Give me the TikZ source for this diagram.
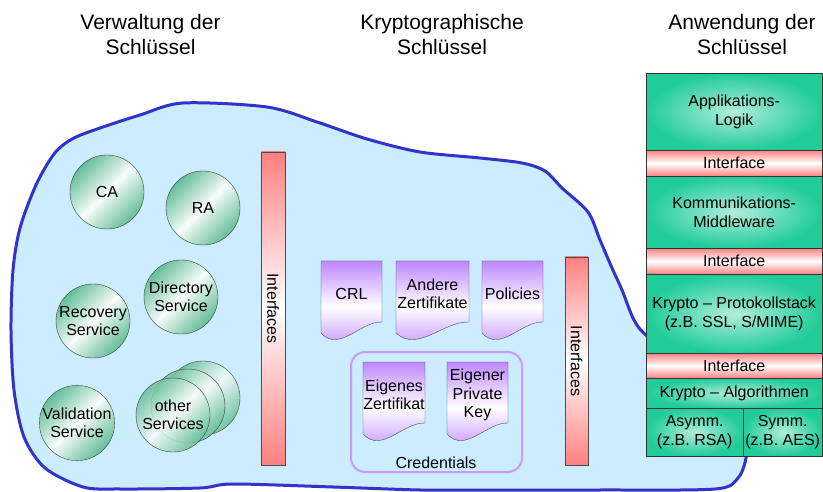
\documentclass[tikz,border=0pt]{standalone}
\usepackage{fontspec}
\setmainfont{Liberation Sans}
\usetikzlibrary{positioning}

\definecolor{blobfill}{RGB}{204,236,255}
\definecolor{blobline}{RGB}{51,51,204}
\definecolor{circgreen}{RGB}{100,190,152}
\definecolor{stackgreen}{RGB}{32,204,153}
\definecolor{ifred}{RGB}{255,128,128}
\definecolor{docpurple}{RGB}{190,135,255}
\definecolor{credline}{RGB}{204,153,255}

\newcommand{\titlefont}{\fontsize{21}{25}\selectfont}
\newcommand{\txtfont}{\fontsize{16}{18.5}\selectfont}

% document symbol: name, x, y (top left), width, text
\newcommand{\keydoc}[5]{%
	\begin{scope}[shift={(#2,#3)}]
		\draw[docshape] (0,0) -- (#4,0) -- (#4,61) .. controls ({0.65*#4},60) and ({0.3*#4},92) .. (0,72) -- cycle;
		\node[doctext] (#1) at ({#4/2},33) {#5};
	\end{scope}}

\tikzset{
	title/.style={align=center, font=\titlefont},
	blob/.style={draw=blobline, fill=blobfill, line width=3pt},
	svc/.style={circle, draw=black!75, minimum size=74pt, inner sep=0pt, align=center, font=\txtfont, top color=circgreen, bottom color=circgreen, middle color=white!95!circgreen, shading angle=45},
	ifbar/.style={draw=black!70, top color=ifred, bottom color=ifred, middle color=white, inner sep=0pt},
	docshape/.style={draw=black!70, top color=docpurple, bottom color=docpurple, middle color=white},
	doctext/.style={align=center, font=\txtfont, inner sep=0pt},
	credbox/.style={draw=credline, line width=2pt, rounded corners=14pt},
	layer/.style={draw=black!80, inner color=white!65!stackgreen, outer color=stackgreen, align=center, font=\txtfont, anchor=north west, inner sep=0pt},
	ifband/.style={draw=black!80, top color=ifred, bottom color=ifred, middle color=white, font=\txtfont, anchor=north west, inner sep=0pt}
}

\begin{document}
\begin{tikzpicture}[x=1pt, y=-1pt]
	\useasboundingbox (0,0) rectangle (823,492);
	
	\node[title] (mgmt) at (150.5,34) {Verwaltung der\\Schlüssel};
	\node[title] (keys) at (442,34) {Kryptographische\\Schlüssel};
	\node[title] (usage) at (742,34) {Anwendung der\\Schlüssel};
	
	% area
	\path[blob] plot[smooth cycle, tension=0.5] coordinates {
		(183,103) (267,107) (317,122) (367,139) (420,152) (480,158) (522,163) (545,171)
		(562,188) (588,212) (600,240) (612,268) (622,290) (634,320) (648,337) (700,380)
		(745,438) (746,458) (738,478) (715,489) (600,490) (480,490) (420,490) (333,487)
		(233,484) (200,488) (120,489) (83,487) (45,468) (24,437) (14,390) (11,330)
		(13,270) (20,228) (36,185) (54,154) (72,139) (100,128) (140,115)};
	
	\node[svc] (ca) at (107,192) {CA};
	\node[svc] (ra) at (203,208) {RA};
	\node[svc] (dir) at (181,297) {Directory\\Service};
	\node[svc] (rec) at (93,321) {Recovery\\Service};
	\node[svc] (val) at (77,423) {Validation\\Service};
	\node[svc, fill opacity=.85, text opacity=1] (oth3) at (203,398) {};
	\node[svc, fill opacity=.85, text opacity=1] (oth2) at (188,406) {};
	\node[svc, fill opacity=.85, text opacity=1] (oth1) at (173,415) {other\\Services};
	
	\node[ifbar, minimum width=24pt, minimum height=313pt] (ifmgmt) at (273,308.5) {};
	\node[rotate=-90, font=\txtfont] (ifmgmtlabel) at (ifmgmt) {Interfaces};
	
	\keydoc{crl}{321}{261}{61}{CRL}
	\keydoc{othercerts}{396}{261}{73}{Andere\\Zertifikate}
	\keydoc{policies}{482}{261}{61}{Policies}
	
	\node[credbox, minimum width=171pt, minimum height=120pt] (cred) at (436.5,412) {};
	\node[font=\txtfont] (credlabel) at (436,463) {Credentials};
	\keydoc{owncert}{363}{362}{62}{Eigenes\\Zertifikat}
	\keydoc{ownkey}{447}{362}{61}{Eigener\\Private\\Key}
	
	\node[ifbar, minimum width=23pt, minimum height=208pt] (ifkeys) at (576.5,361) {};
	\node[rotate=-90, font=\txtfont] (ifkeyslabel) at (ifkeys) {Interfaces};
	
	% stack
	\node[layer, minimum width=176pt, minimum height=77pt] (app) at (646,73) {Applikations-\\Logik};
	\node[ifband, minimum width=176pt, minimum height=26pt] (if1) at (646,150) {Interface};
	\node[layer, minimum width=176pt, minimum height=72pt] (mw) at (646,176) {Kommunikations-\\Middleware};
	\node[ifband, minimum width=176pt, minimum height=26pt] (if2) at (646,248) {Interface};
	\node[layer, minimum width=176pt, minimum height=79pt] (proto) at (646,274) {Krypto -- Protokollstack\\(z.B. SSL, S/MIME)};
	\node[ifband, minimum width=176pt, minimum height=25pt] (if3) at (646,353) {Interface};
	\node[layer, minimum width=176pt, minimum height=30pt] (algo) at (646,378) {Krypto -- Algorithmen};
	\node[layer, minimum width=97pt, minimum height=48pt] (asym) at (646,408) {Asymm.\\(z.B. RSA)};
	\node[layer, minimum width=79pt, minimum height=48pt] (sym) at (743,408) {Symm.\\(z.B. AES)};
\end{tikzpicture}
\end{document}
